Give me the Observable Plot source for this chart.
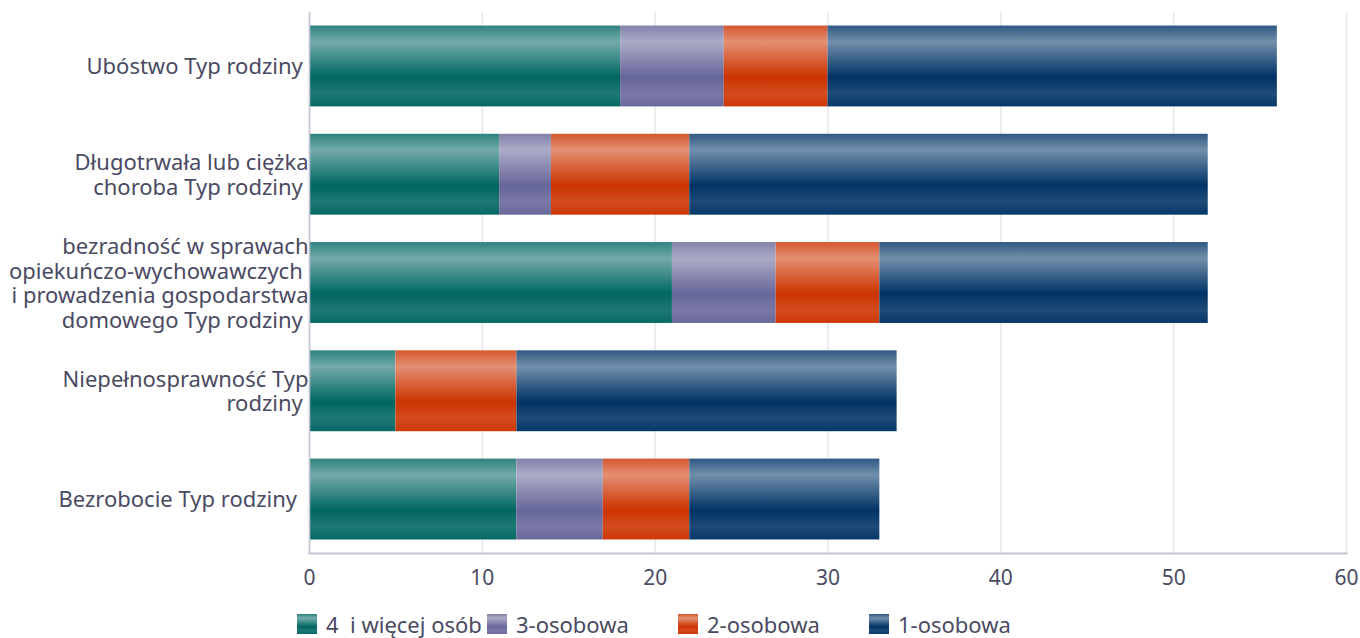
<!DOCTYPE html>
<html>
<head>
<meta charset="utf-8">
<script src="https://cdn.jsdelivr.net/npm/d3@7"></script>
<script src="https://cdn.jsdelivr.net/npm/@observablehq/plot@0.6"></script>
<style>
  html, body { margin: 0; padding: 0; background: #fff; }
  body { width: 1360px; height: 638px; overflow: hidden; font-family: "Noto Sans", sans-serif; }
  #chart svg { display: block; }
  #legend { position: relative; height: 32px; }
  .item { position: absolute; top: 8px; display: flex; align-items: center; height: 20px; font-size: 22px; color: #4a4a63; white-space: pre; }
  .sw { width: 20px; height: 20px; margin-right: 9px; }
</style>
</head>
<body>
<div id="chart"></div>
<div id="legend"></div>
<script>
const categories = [
  "Ubóstwo Typ rodziny",
  "Długotrwała lub ciężka choroba Typ rodziny",
  "bezradność w sprawach opiekuńczo-wychowawczych i prowadzenia gospodarstwa domowego Typ rodziny",
  "Niepełnosprawność Typ rodziny",
  "Bezrobocie Typ rodziny"
];
const categoryLabels = [
  "Ubóstwo Typ rodziny\u00a0",
  "Długotrwała lub ciężka\nchoroba Typ rodziny\u00a0",
  "bezradność w sprawach\nopiekuńczo-wychowawczych\u00a0\ni prowadzenia gospodarstwa\ndomowego Typ rodziny\u00a0",
  "Niepełnosprawność Typ\nrodziny\u00a0",
  "Bezrobocie Typ rodziny\u00a0\u00a0"
];
const seriesNames = ["4  i więcej osób", "3-osobowa", "2-osobowa", "1-osobowa"];
const seriesColors = ["#006662", "#67669a", "#cc3300", "#003366"];
const values4plus = [18, 11, 21, 5, 12];
const values3 = [6, 3, 6, 0, 5];
const values2 = [6, 8, 6, 7, 5];
const values1 = [26, 30, 19, 22, 11];
const xTicks = [0, 10, 20, 30, 40, 50, 60];

const seriesValues = [values4plus, values3, values2, values1];
const data = [];
categories.forEach((c, i) => {
  seriesNames.forEach((s, j) => data.push({category: c, series: s, value: seriesValues[j][i]}));
});
const gradIds = seriesNames.map((_, j) => `grad${j}`);
const labelMap = new Map(categories.map((c, i) => [c, categoryLabels[i]]));

const plot = Plot.plot({
  width: 1360,
  height: 606,
  marginLeft: 309,
  marginRight: 14,
  marginTop: 12,
  marginBottom: 53,
  style: {fontFamily: "Noto Sans, sans-serif", fontSize: "22px", color: "#4a4a63", background: "#fff"},
  x: {domain: [0, 60], ticks: xTicks, label: null},
  y: {domain: categories, paddingInner: 0.253, paddingOuter: 0.125, round: false, label: null},
  color: {domain: seriesNames, range: gradIds.map(id => `url(#${id})`)},
  marks: [
    Plot.gridX(xTicks, {stroke: "#e6e6ee", strokeOpacity: 1, strokeWidth: 1.5}),
    Plot.axisY({tickSize: 0, tickPadding: 1, fontSize: 22, lineHeight: 1.12, tickFormat: d => labelMap.get(d), label: null}),
    Plot.barX(data, {x: "value", y: "category", fill: "series", order: seriesNames}),
    Plot.frame({anchor: "bottom", stroke: "#c3c3d6", strokeWidth: 2}),
    Plot.frame({anchor: "left", stroke: "#c3c3d6", strokeWidth: 1.5}),
    Plot.axisX({ticks: xTicks, tickSize: 0, tickPadding: 17, fontSize: 21, label: null})
  ]
});
document.getElementById("chart").appendChild(plot);

// gradient definitions
const svg = d3.select(plot);
const defs = svg.insert("defs", ":first-child");
seriesColors.forEach((c, j) => {
  const mix = t => d3.interpolateRgb(c, "#ffffff")(t);
  const g = defs.append("linearGradient").attr("id", gradIds[j])
    .attr("x1", 0).attr("y1", 0).attr("x2", 0).attr("y2", 1);
  const stops = [[0, mix(0.18)], [0.2, mix(0.45)], [0.64, mix(0)], [0.84, mix(0.12)], [1, mix(0.02)]];
  stops.forEach(([o, col]) => g.append("stop").attr("offset", o).attr("stop-color", col));
});

// legend
const legend = document.getElementById("legend");
const lx = [297, 487, 678, 869];
seriesNames.forEach((s, j) => {
  const c = seriesColors[j];
  const mix = t => d3.interpolateRgb(c, "#ffffff")(t);
  const item = document.createElement("div");
  item.className = "item";
  item.style.left = lx[j] + "px";
  const sw = document.createElement("div");
  sw.className = "sw";
  sw.style.background = `linear-gradient(to bottom, ${mix(0.18)} 0%, ${mix(0.45)} 20%, ${mix(0)} 64%, ${mix(0.12)} 84%, ${mix(0.02)} 100%)`;
  item.appendChild(sw);
  const t = document.createElement("span");
  t.textContent = s;
  item.appendChild(t);
  legend.appendChild(item);
});
</script>
</body>
</html>
